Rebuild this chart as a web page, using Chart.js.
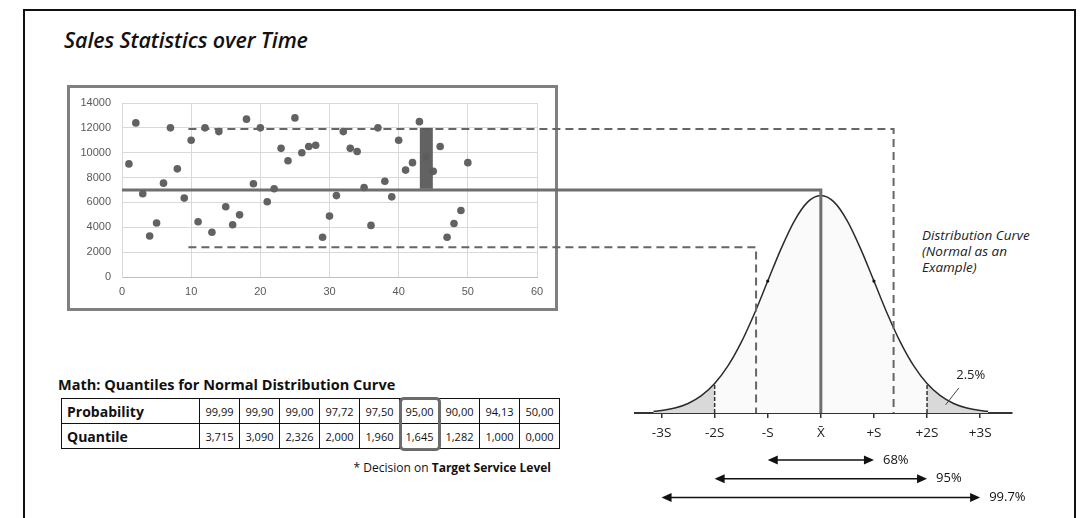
<!DOCTYPE html>
<html>
<head>
<meta charset="utf-8">
<script src="https://cdn.jsdelivr.net/npm/chart.js@4.4.1/dist/chart.umd.min.js"></script>
<style>
    html, body { margin: 0; padding: 0; background: #fff; }
    body { width: 1083px; height: 518px; position: relative; overflow: hidden; font-family: "Open Sans", sans-serif; color: #111; }
    #frame { position: absolute; left: 23px; top: 9px; width: 1053px; height: 600px; border: 2px solid #111; border-bottom: none; box-sizing: border-box; }
    #title { position: absolute; left: 64px; top: 25px; font: italic 600 21.5px "Open Sans"; white-space: nowrap; letter-spacing: -0.1px; }
    #box { position: absolute; left: 67px; top: 85px; width: 491px; height: 226px; border: 3px solid #808080; box-sizing: border-box; }
    canvas { position: absolute; left: 0; top: 0; }
    #cNormal { z-index: 2; }
    #cSales { z-index: 3; }
    #distText { position: absolute; left: 922px; top: 228px; font: italic 13.5px "Open Sans"; line-height: 15.8px; color: #222; }
    #mathTitle { position: absolute; left: 58px; top: 375px; font: bold 14.5px "Open Sans"; white-space: nowrap; }
    #quant { position: absolute; left: 61px; top: 398px; border-collapse: collapse; }
    #quant td { border: 1px solid #111; height: 24px; padding: 0; text-align: center; font-size: 11px; width: 39px; }
    #quant td.lab { width: 132px; text-align: left; padding-left: 5px; font-weight: bold; font-size: 14px; }
    #hl { position: absolute; border: 3px solid #6b6b6b; border-radius: 5px; box-sizing: border-box; z-index: 4; }
    #note { position: absolute; right: 532px; top: 459px; font-size: 12px; white-space: nowrap; }
</style>
</head>
<body>
<div id="frame"></div>
<div id="title">Sales Statistics over Time</div>
<div id="box"></div>
<canvas id="cNormal" width="1083" height="518"></canvas>
<canvas id="cSales" width="1083" height="518"></canvas>
<div id="distText">Distribution Curve<br>(Normal as an<br>Example)</div>
<div id="mathTitle">Math: Quantiles for Normal Distribution Curve</div>
<table id="quant"></table>
<div id="hl"></div>
<div id="note">* Decision on <b>Target Service Level</b></div>

<script>
// Sales over time (period, units)
const periods = [1, 2, 3, 4, 5, 6, 7, 8, 9, 10,
    11, 12, 13, 14, 15, 16, 17, 18, 19, 20,
    21, 22, 23, 24, 25, 26, 27, 28, 29, 30,
    31, 32, 33, 34, 35, 36, 37, 38, 39, 40,
    41, 42, 43, 44, 45, 46, 47, 48, 49, 50];
const sales = [9100, 12400, 6700, 3300, 4350, 7550, 12000, 8700, 6350, 11000,
    4450, 12000, 3600, 11700, 5650, 4200, 5000, 12700, 7500, 12000,
    6050, 7100, 10350, 9350, 12800, 10000, 10500, 10600, 3200, 4900,
    6550, 11700, 10350, 10100, 7200, 4150, 12000, 7700, 6450, 11000,
    8600, 9200, 12500, 9650, 8500, 10500, 3200, 4300, 5350, 9200];

const salesTicksX = [0, 10, 20, 30, 40, 50, 60];
const salesTicksY = [0, 2000, 4000, 6000, 8000, 10000, 12000, 14000];

// highlighted period range (bar) and reference levels
const barPeriod = 44;
const barRange = [7100, 12000];
const meanSales = 7000;
const upperLevel = 11900;
const lowerLevel = 2400;
const levelStart = 9.6;

// where the reference levels land on the distribution (in S)
const meanSigma = 0;
const upperSigma = 1.37;
const lowerSigma = -1.22;

// distribution curve
const sigmaPos = [-3.15, -3, -2.75, -2.5, -2.25, -2, -1.75, -1.5, -1.25, -1, -0.75, -0.5, -0.25, 0,
    0.25, 0.5, 0.75, 1, 1.25, 1.5, 1.75, 2, 2.25, 2.5, 2.75, 3, 3.15];
const density = [0.003, 0.0044, 0.0091, 0.0175, 0.0317, 0.054, 0.0863, 0.1295, 0.1826, 0.242, 0.3011, 0.3521, 0.3867, 0.3989,
    0.3867, 0.3521, 0.3011, 0.242, 0.1826, 0.1295, 0.0863, 0.054, 0.0317, 0.0175, 0.0091, 0.0044, 0.003];

const sigmaTicks = [-3, -2, -1, 0, 1, 2, 3];
const sigmaLabels = ['-3S', '-2S', '-S', 'X\u0304', '+S', '+2S', '+3S'];
const tailLimit = 2;

const coverSigma = [1, 2, 3];
const coverLabels = ['68%', '95%', '99.7%'];
const tailLabel = '2.5%';

// quantile table
const probabilities = ['99,99', '99,90', '99,00', '97,72', '97,50', '95,00', '90,00', '94,13', '50,00'];
const quantiles = ['3,715', '3,090', '2,326', '2,000', '1,960', '1,645', '1,282', '1,000', '0,000'];
const targetCol = 5;

Chart.defaults.font.family = '"Open Sans", sans-serif';
Chart.defaults.animation = false;

// ---------- table ----------
const tbl = document.getElementById('quant');
[['Probability', probabilities], ['Quantile', quantiles]].forEach(([name, vals]) => {
    const tr = document.createElement('tr');
    const th = document.createElement('td');
    th.className = 'lab';
    th.textContent = name;
    tr.appendChild(th);
    vals.forEach(v => {
        const td = document.createElement('td');
        td.textContent = v;
        tr.appendChild(td);
    });
    tbl.appendChild(tr);
});
const c1 = tbl.rows[0].cells[targetCol + 1].getBoundingClientRect();
const c2 = tbl.rows[1].cells[targetCol + 1].getBoundingClientRect();
const hl = document.getElementById('hl');
hl.style.left = (c1.left - 1) + 'px';
hl.style.top = (c1.top - 2) + 'px';
hl.style.width = (c1.width + 2) + 'px';
hl.style.height = (c2.bottom - c1.top + 4) + 'px';

// ---------- distribution curve ----------
const curve = sigmaPos.map((s, i) => ({ x: s, y: density[i] }));
const tailL = curve.filter(p => p.x <= -tailLimit);
const tailR = curve.filter(p => p.x >= tailLimit);
const edgeY = density[sigmaPos.indexOf(tailLimit)];

function arrowHead(ctx, tipX, yy, dir) {
    ctx.beginPath();
    ctx.moveTo(tipX, yy);
    ctx.lineTo(tipX + dir * 10, yy - 4.5);
    ctx.lineTo(tipX + dir * 10, yy + 4.5);
    ctx.closePath();
    ctx.fill();
}

const coveragePlugin = {
    id: 'coverage',
    afterDraw(chart) {
        const ctx = chart.ctx, x = chart.scales.x, y = chart.scales.y;
        ctx.save();
        ctx.strokeStyle = '#111';
        ctx.fillStyle = '#111';
        ctx.lineWidth = 1.5;
        ctx.font = '13px "Open Sans"';
        ctx.textBaseline = 'middle';
        coverSigma.forEach((k, i) => {
            const yy = x.bottom + 23 + i * 18.7;
            const x0 = x.getPixelForValue(-k), x1 = x.getPixelForValue(k);
            ctx.beginPath();
            ctx.moveTo(x0 + 5, yy);
            ctx.lineTo(x1 - 5, yy);
            ctx.stroke();
            arrowHead(ctx, x0, yy, 1);
            arrowHead(ctx, x1, yy, -1);
            ctx.fillText(coverLabels[i], x1 + 9, yy);
        });
        // 2.5% callout on right tail
        ctx.strokeStyle = '#444';
        ctx.lineWidth = 1;
        ctx.beginPath();
        ctx.moveTo(x.getPixelForValue(2.35), y.getPixelForValue(0.015));
        ctx.lineTo(x.getPixelForValue(2.6), y.getPixelForValue(0.046));
        ctx.stroke();
        ctx.fillStyle = '#222';
        ctx.font = '13px "Open Sans"';
        ctx.fillText(tailLabel, x.getPixelForValue(2.55), y.getPixelForValue(0.07));
        ctx.restore();
    }
};

const normalChart = new Chart(document.getElementById('cNormal'), {
    type: 'line',
    data: {
        datasets: [
            { data: tailL, fill: 'origin', backgroundColor: '#d9d9d9', borderWidth: 0, pointRadius: 0, cubicInterpolationMode: 'monotone' },
            { data: tailR, fill: 'origin', backgroundColor: '#d9d9d9', borderWidth: 0, pointRadius: 0, cubicInterpolationMode: 'monotone' },
            { data: [{ x: -tailLimit, y: 0 }, { x: -tailLimit, y: edgeY }], borderColor: '#333', borderWidth: 1.5, borderDash: [4, 2], pointRadius: 0 },
            { data: [{ x: tailLimit, y: 0 }, { x: tailLimit, y: edgeY }], borderColor: '#333', borderWidth: 1.5, borderDash: [4, 2], pointRadius: 0 },
            { data: [{ x: -1, y: 0.242 }, { x: 1, y: 0.242 }], showLine: false, pointRadius: 1.6, pointBackgroundColor: '#111', pointBorderWidth: 0 },
            { data: curve, borderColor: '#2b2b2b', borderWidth: 1.5, fill: 'origin', backgroundColor: '#fafafa', pointRadius: 0, cubicInterpolationMode: 'monotone' }
        ]
    },
    options: {
        responsive: false,
        devicePixelRatio: 1,
        layout: { padding: { left: 635, right: 71, top: 184, bottom: 81 } },
        plugins: {
            legend: { display: false },
            tooltip: { enabled: false },
            filler: { drawTime: 'beforeDatasetsDraw' }
        },
        scales: {
            x: {
                type: 'linear',
                min: -3.5,
                max: 3.6,
                afterBuildTicks: s => { s.ticks = sigmaTicks.map(v => ({ value: v })); },
                afterFit: s => { s.height = 24; },
                grid: { drawOnChartArea: false, drawTicks: true, tickLength: 5, color: '#333', lineWidth: 1.5 },
                border: { display: true, color: '#333', width: 2 },
                ticks: {
                    autoSkip: false,
                    maxRotation: 0,
                    padding: 7,
                    color: '#222',
                    font: { size: 13.5 },
                    callback: v => sigmaLabels[sigmaTicks.indexOf(v)]
                }
            },
            y: { display: false, min: 0, max: 0.42 }
        }
    },
    plugins: [coveragePlugin]
});

// ---------- sales scatter + connectors ----------
const connectorPlugin = {
    id: 'connectors',
    beforeDatasetsDraw(chart) {
        const ctx = chart.ctx, sx = chart.scales.x, sy = chart.scales.y;
        const nx = normalChart.scales.x, ny = normalChart.scales.y;
        ctx.save();
        // mean
        ctx.strokeStyle = '#6f6f6f';
        ctx.lineWidth = 3;
        ctx.beginPath();
        const ym = sy.getPixelForValue(meanSales);
        ctx.moveTo(sx.getPixelForValue(0), ym);
        ctx.lineTo(nx.getPixelForValue(meanSigma), ym);
        ctx.lineTo(nx.getPixelForValue(meanSigma), ny.getPixelForValue(0));
        ctx.stroke();
        // upper / lower levels
        ctx.strokeStyle = '#666';
        ctx.lineWidth = 2;
        ctx.setLineDash([8, 5]);
        [[upperLevel, upperSigma], [lowerLevel, lowerSigma]].forEach(([lvl, sg]) => {
            const yy = sy.getPixelForValue(lvl);
            ctx.beginPath();
            ctx.moveTo(sx.getPixelForValue(levelStart), yy);
            ctx.lineTo(nx.getPixelForValue(sg), yy);
            ctx.lineTo(nx.getPixelForValue(sg), ny.getPixelForValue(0));
            ctx.stroke();
        });
        ctx.restore();
    }
};

const tickFont = { size: 11, family: '"Liberation Sans", sans-serif' };

new Chart(document.getElementById('cSales'), {
    type: 'scatter',
    data: {
        datasets: [
            {
                data: [{ x: barPeriod, y: barRange[0] }, { x: barPeriod, y: barRange[1] }],
                showLine: true,
                borderColor: 'rgba(92,92,92,0.96)',
                borderWidth: 13,
                borderCapStyle: 'butt',
                pointRadius: 0,
                order: 0
            },
            {
                data: periods.map((p, i) => ({ x: p, y: sales[i] })),
                pointRadius: 3.8,
                backgroundColor: '#626262',
                borderWidth: 0,
                order: 1
            }
        ]
    },
    options: {
        responsive: false,
        devicePixelRatio: 1,
        layout: { padding: { left: 0, right: 546, top: 103, bottom: 211 } },
        plugins: { legend: { display: false }, tooltip: { enabled: false } },
        scales: {
            x: {
                type: 'linear',
                min: 0,
                max: 60,
                afterBuildTicks: s => { s.ticks = salesTicksX.map(v => ({ value: v })); },
                afterFit: s => { s.height = 30; },
                grid: { color: '#d9d9d9', drawTicks: false },
                border: { color: '#bfbfbf' },
                ticks: { padding: 8, color: '#595959', font: tickFont, callback: v => String(v) }
            },
            y: {
                min: 0,
                max: 14000,
                afterBuildTicks: s => { s.ticks = salesTicksY.map(v => ({ value: v })); },
                afterFit: s => { s.width = 122; },
                grid: { color: '#d9d9d9', drawTicks: false },
                border: { color: '#d9d9d9' },
                ticks: { padding: 11, color: '#595959', font: tickFont, callback: v => String(v) }
            }
        }
    },
    plugins: [connectorPlugin]
});
</script>
</body>
</html>
